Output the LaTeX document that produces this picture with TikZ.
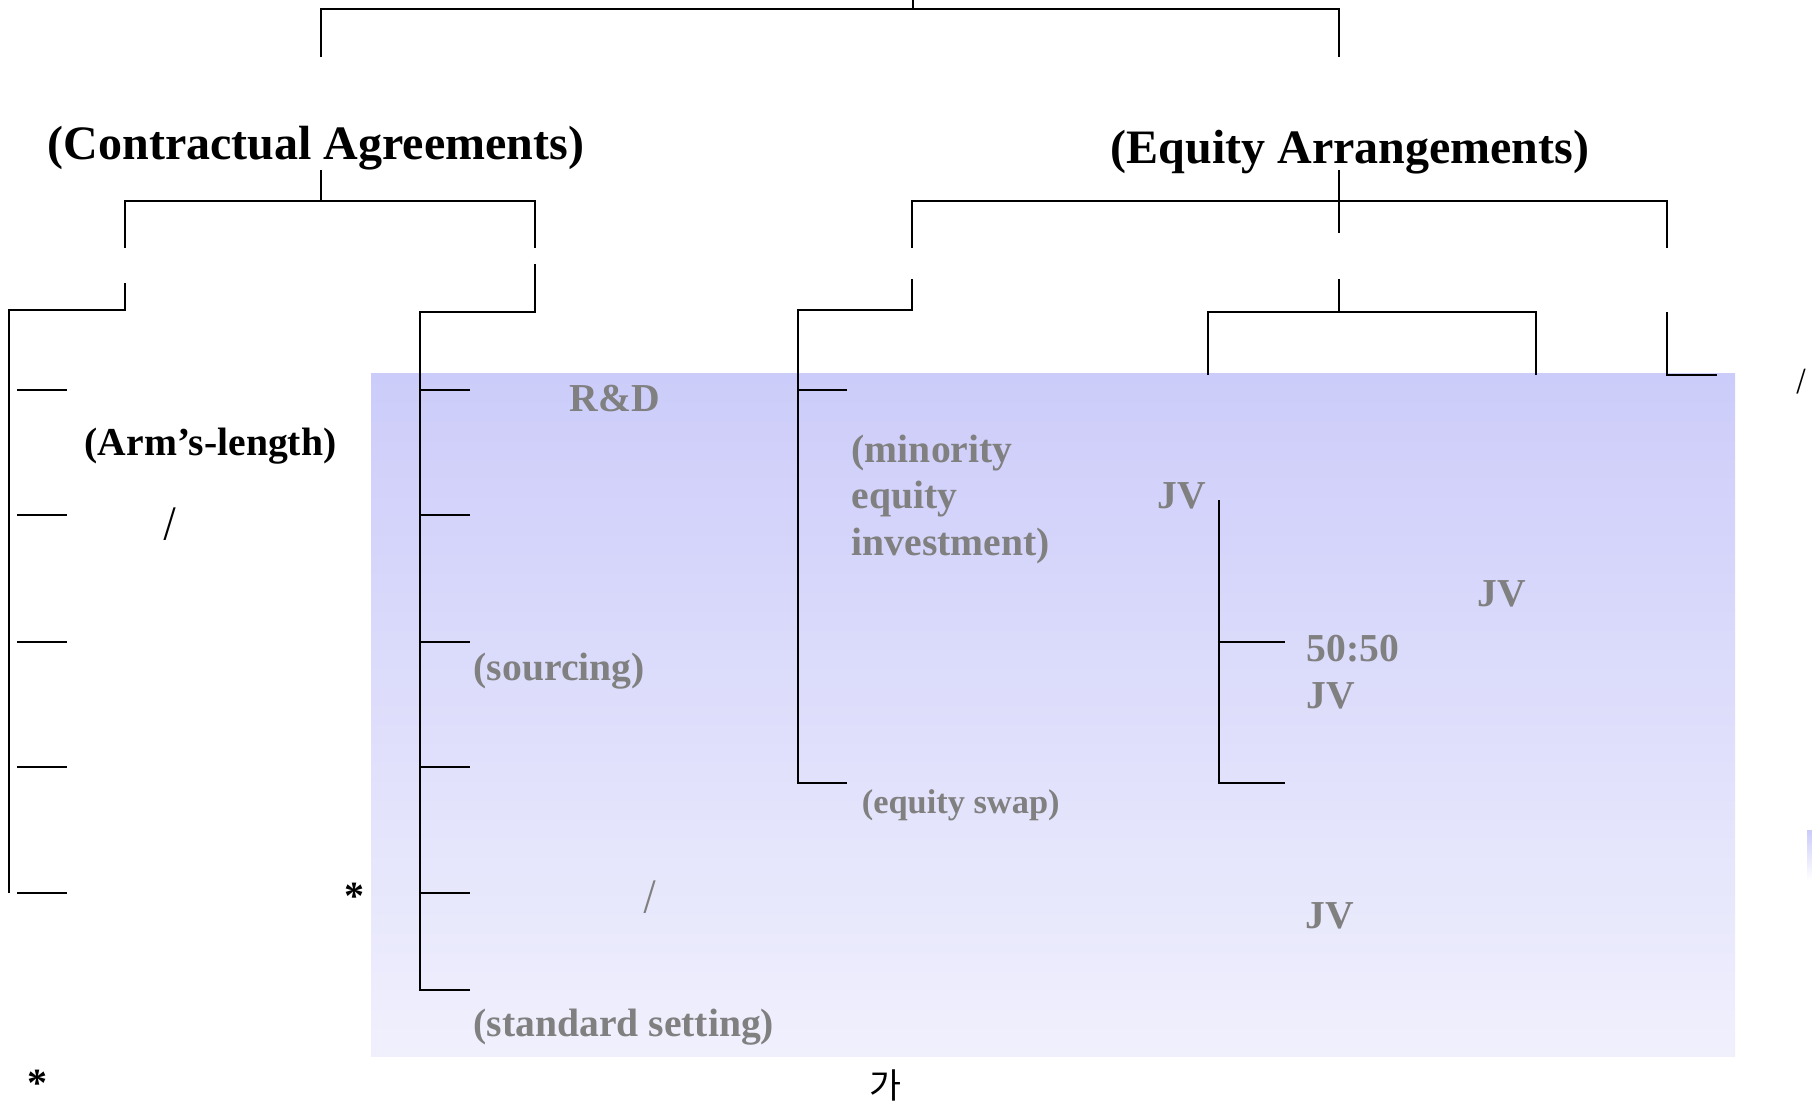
\documentclass[tikz,border=0pt]{standalone}
\usepackage{fontspec}
\setmainfont{Liberation Serif}
\newfontfamily\kofont{Noto Sans CJK KR}
\definecolor{bandtop}{RGB}{204,204,250}
\definecolor{bandbot}{RGB}{240,240,253}
\definecolor{labelgray}{RGB}{128,128,128}
\begin{document}
\begin{tikzpicture}[x=0.25pt,y=-0.25pt,
  wire/.style={line width=0.5pt, black},
  head/.style={inner sep=0, anchor=base, font=\fontsize{12}{14}\selectfont\bfseries},
  term/.style={inner sep=0, anchor=base west, font=\fontsize{9.9}{12}\selectfont\bfseries},
  faded/.style={term, text=labelgray},
  smallfaded/.style={faded, font=\fontsize{8.6}{10}\selectfont\bfseries},
  star/.style={inner sep=0, anchor=base west, font=\fontsize{10}{12}\selectfont\bfseries},
  slashsym/.style={inner sep=0, font=\kofont\fontsize{8.4}{10}\selectfont}
]
\useasboundingbox (0,0) rectangle (1812,1101);

% shaded background band
\shade[top color=bandtop, bottom color=bandbot] (371,374) rectangle (1735,1057);
\shade[top color=bandtop, bottom color=white] (1807,831) rectangle (1812,880);

% root bracket
\coordinate (rootTop) at (913,0);
\coordinate (rootBar) at (913,9);
\coordinate (caTop) at (321,57);
\coordinate (eaTop) at (1339,57);
\draw[wire] (rootTop) -- (rootBar);
\draw[wire] (caTop) |- (rootBar) -| (eaTop);

% contractual agreements
\node[head] (ca) at (316,160) {(Contractual Agreements)};
\coordinate (caStem) at (321,170);
\coordinate (caBar) at (321,201);
\coordinate (caL) at (125,248);
\coordinate (caR) at (535,248);
\draw[wire] (caStem) -- (caBar);
\draw[wire] (caL) |- (caBar) -| (caR);

% arm's-length list
\coordinate (armTop) at (125,283);
\coordinate (armCorner) at (9,310);
\coordinate (armEnd) at (9,893);
\draw[wire] (armTop) |- (armCorner) -- (armEnd);
\foreach \y [count=\i] in {390,515,642,767,893}{
  \coordinate (armA\i) at (17,\y);
  \coordinate (armB\i) at (67,\y);
  \draw[wire] (armA\i) -- (armB\i);
}

% cooperative agreements list
\coordinate (coTop) at (535,264);
\coordinate (coCorner) at (420,312);
\coordinate (coEnd) at (420,990);
\coordinate (coEndR) at (470,990);
\draw[wire] (coTop) |- (coCorner) -- (coEnd) -- (coEndR);
\foreach \y [count=\i] in {390,515,642,767,893}{
  \coordinate (coA\i) at (420,\y);
  \coordinate (coB\i) at (470,\y);
  \draw[wire] (coA\i) -- (coB\i);
}

% equity arrangements
\node[head] (ea) at (1350,164) {(Equity Arrangements)};
\coordinate (eaStemTop) at (1339,170);
\coordinate (eaStemBot) at (1339,233);
\coordinate (eaBar) at (1339,201);
\coordinate (eaL) at (912,248);
\coordinate (eaR) at (1667,248);
\draw[wire] (eaStemTop) -- (eaStemBot);
\draw[wire] (eaL) |- (eaBar) -| (eaR);

% minority equity branch
\coordinate (miTop) at (912,279);
\coordinate (miCorner) at (798,310);
\coordinate (miEnd) at (798,783);
\coordinate (miEndR) at (847,783);
\coordinate (miA) at (798,390);
\coordinate (miB) at (847,390);
\draw[wire] (miTop) |- (miCorner) -- (miEnd) -- (miEndR);
\draw[wire] (miA) -- (miB);

% joint venture branch
\coordinate (jvTop) at (1339,279);
\coordinate (jvBar) at (1339,312);
\coordinate (jvL) at (1208,375);
\coordinate (jvR) at (1536,375);
\draw[wire] (jvTop) -- (jvBar);
\draw[wire] (jvL) |- (jvBar) -| (jvR);

% right branch
\coordinate (rtTop) at (1667,312);
\coordinate (rtEnd) at (1717,375);
\draw[wire] (rtTop) |- (rtEnd);

% JV type bracket
\coordinate (jbTop) at (1219,500);
\coordinate (jbEnd) at (1285,783);
\coordinate (jbMid) at (1219,642);
\coordinate (jbMidR) at (1285,642);
\draw[wire] (jbTop) |- (jbEnd);
\draw[wire] (jbMid) -- (jbMidR);

% labels
\node[term] (arm) at (84,456) {(Arm’s-length)};
\node[slashsym] (sl1) at (170,524) {/};
\node[star] (st1) at (344,910) {*};
\node[star] (st2) at (27,1096) {*};

\node[faded] (rd) at (569,412) {R\&D};
\node[faded] (src) at (473,681) {(sourcing)};
\node[slashsym, text=labelgray] (sl2) at (650,897) {/};
\node[faded] (std) at (473,1036) {(standard setting)};

\node[faded] (mi1) at (851,463) {(minority};
\node[faded] (mi2) at (851,509) {equity};
\node[faded] (mi3) at (851,556) {investment)};
\node[smallfaded] (swap) at (861,814) {(equity swap)};

\node[faded] (jv1) at (1157,509) {JV};
\node[faded] (jv2) at (1477,607) {JV};
\node[faded] (ff) at (1306,662) {50:50};
\node[faded] (jv3) at (1306,709) {JV};
\node[faded] (jv4) at (1305,929) {JV};

\node[slashsym, font=\kofont\fontsize{6.4}{8}\selectfont] (sl3) at (1802,382) {/};
\node[inner sep=0, font=\kofont\fontsize{8.7}{10}\selectfont] (ga) at (886,1085) {가};
\end{tikzpicture}
\end{document}
